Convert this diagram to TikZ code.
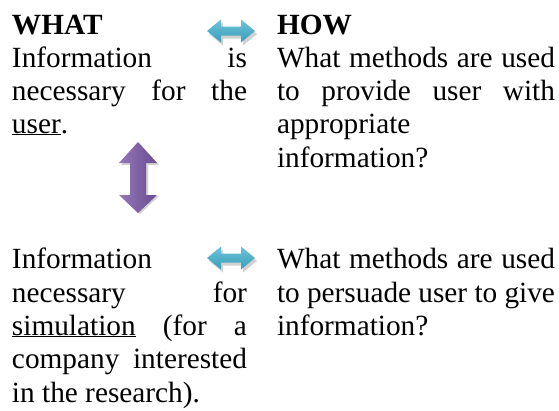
\documentclass[tikz,border=0pt]{standalone}
\usepackage{fontspec}
\setmainfont{Liberation Serif}
\usetikzlibrary{calc}
\definecolor{arrblueL}{HTML}{6CC3DA}
\definecolor{arrblueD}{HTML}{3A9DB8}
\definecolor{arrpurL}{HTML}{9478B8}
\definecolor{arrpurD}{HTML}{6A4C92}
\tikzset{
  txt/.style={anchor=base west, inner sep=0pt, outer sep=0pt, font=\fontsize{29.3}{33.3}\selectfont},
  bluearrow/.style={top color=arrblueL, bottom color=arrblueD, draw=none},
  purarrow/.style={left color=arrpurL, right color=arrpurD, draw=none},
  shadowfill/.style={fill=black, opacity=0.18, draw=none}
}
\newcommand{\jline}[2]{\makebox[#1][s]{#2}}
\begin{document}
\begin{tikzpicture}[x=1pt,y=-1pt]
\useasboundingbox (0,0) rectangle (559,410);
% left top
\node[txt] (what) at (12,34) {\textbf{WHAT}};
\node[txt] (l1) at (12,67) {\jline{235pt}{Information is}};
\node[txt] (l2) at (12,100) {\jline{235pt}{necessary for the}};
\node[txt] (l3) at (12,133) {\underline{user}.};
% right top
\node[txt] (how) at (277,34) {\textbf{HOW}};
\node[txt] (r1) at (277,67) {\jline{278pt}{What methods are used}};
\node[txt] (r2) at (277,100) {\jline{278pt}{to provide user with}};
\node[txt] (r3) at (277,133) {appropriate};
\node[txt] (r4) at (277,167) {information?};
% left bottom
\node[txt] (b1) at (12,268) {Information};
\node[txt] (b2) at (12,302) {\jline{235pt}{necessary for}};
\node[txt] (b3) at (12,335) {\jline{235pt}{\underline{simulation} (for a}};
\node[txt] (b4) at (12,368) {\jline{235pt}{company interested}};
\node[txt] (b5) at (12,402) {in the research).};
% right bottom
\node[txt] (c1) at (277,268) {\jline{278pt}{What methods are used}};
\node[txt] (c2) at (277,302) {\jline{278pt}{to persuade user to give}};
\node[txt] (c3) at (277,335) {information?};
% horizontal double arrows
\foreach \cy in {31,258}{
  \fill[shadowfill] ($(208,\cy)+(1,3)$) -- ++(14,-11.5) -- ++(0,7) -- ++(20,0) -- ++(0,-7) -- ++(14,11.5) -- ++(-14,11.5) -- ++(0,-7) -- ++(-20,0) -- ++(0,7) -- cycle;
  \shade[bluearrow] (207,\cy) -- ++(14,-11.5) -- ++(0,7) -- ++(20,0) -- ++(0,-7) -- ++(14,11.5) -- ++(-14,11.5) -- ++(0,-7) -- ++(-20,0) -- ++(0,7) -- cycle;
}
% vertical double arrow
\fill[shadowfill] (140,144) -- ++(19,21) -- ++(-11,0) -- ++(0,31) -- ++(11,0) -- ++(-19,18) -- ++(-19,-18) -- ++(11,0) -- ++(0,-31) -- ++(-11,0) -- cycle;
\shade[purarrow] (138,142) -- ++(19,21) -- ++(-11,0) -- ++(0,32) -- ++(11,0) -- ++(-19,18) -- ++(-19,-18) -- ++(11,0) -- ++(0,-32) -- ++(-11,0) -- cycle;
\end{tikzpicture}
\end{document}
